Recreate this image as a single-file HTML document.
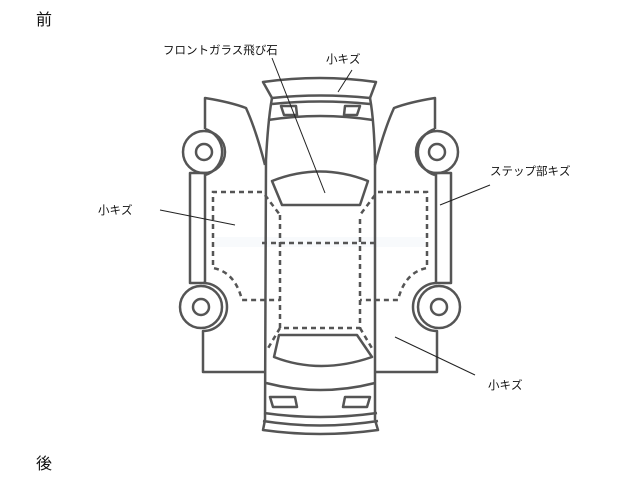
<!DOCTYPE html>
<html><head><meta charset="utf-8"><style>
html,body{margin:0;padding:0;background:#fff;}
svg{display:block}
text{font-family:"Liberation Sans","Noto Sans CJK JP",sans-serif;fill:#111}
</style></head><body>
<svg width="640" height="480" viewBox="0 0 640 480" xmlns="http://www.w3.org/2000/svg">
<text x="36" y="25" font-size="16">前</text>
<text x="36" y="469" font-size="16">後</text>
<text x="163" y="54" font-size="11.5">フロントガラス飛び石</text>
<text x="326" y="63" font-size="11.5">小キズ</text>
<text x="98" y="214" font-size="11.5">小キズ</text>
<text x="490" y="175" font-size="11.5">ステップ部キズ</text>
<text x="488" y="389" font-size="11.5">小キズ</text>
<rect x="215" y="237" width="210" height="10" fill="#f8fafc"/>
<g fill="none" stroke="#555" stroke-width="2.5" stroke-linejoin="round">
<path d="M263,82 Q320,74 376,82 L370,98 Q320,93 272,98 Z"/>
<path d="M272,98 Q268,120 266,160 L265,420"/>
<path d="M370,98 Q374,120 375,160 L375,420"/>
<path d="M272,104 Q320,99 370,104"/>
<path d="M268,120 Q320,112 373,120"/>
<path d="M281,106 L296,106 L297,115 L284,115 Z"/>
<path d="M345,106 L360,106 L357,115 L344,115 Z"/>
<path d="M272,181 Q320,162 368,181 L360,205 L282,205 Z"/>
<path d="M279,335 L357,335 L372,357 Q320,375 274,357 Z"/>
<path d="M266,383 Q320,397 375,383"/>
<path d="M270,397 L295,397 L297,407 L273,407 Z"/>
<path d="M345,397 L370,397 L367,407 L343,407 Z"/>
<path d="M264,413 Q320,421 377,413"/>
<path d="M263,421 Q320,430 378,421"/>
<path d="M265,420 L263,430 Q320,438 378,430 L375,420"/>
<path d="M205,129 L205,98 Q230,102 246,108 Q256,130 265,165"/>
<circle cx="204" cy="152" r="21"/>
<circle cx="204" cy="152" r="8"/>
<path d="M205,129 A24,24 0 0 1 205,175"/>
<rect x="190" y="173" width="15" height="110"/>
<circle cx="201" cy="307" r="21"/>
<circle cx="201" cy="307" r="8"/>
<path d="M203,283 A24,24 0 0 1 203,331 L203,372 L265,372"/>
<path d="M435,129 L435,98 Q410,102 394,108 Q384,130 375,165"/>
<circle cx="437" cy="152" r="21"/>
<circle cx="437" cy="152" r="8"/>
<path d="M435,129 A24,24 0 0 0 435,175"/>
<rect x="436" y="173" width="15" height="110"/>
<circle cx="439" cy="307" r="21"/>
<circle cx="439" cy="307" r="8"/>
<path d="M437,283 A24,24 0 0 0 437,331 L437,372 L375,372"/>
</g>
<g fill="none" stroke="#555" stroke-width="2.5" stroke-dasharray="5,4">
<path d="M280,215 L280,328 L360,328 L360,215"/>
<path d="M265,195 L280,215"/><path d="M375,195 L360,215"/>
<path d="M280,328 L267,350"/><path d="M360,328 L373,350"/>
<path d="M262,243 L375,243"/>
<path d="M262,192 L213,192 L213,268 Q235,272 242,300 L280,300"/>
<path d="M378,192 L427,192 L427,268 Q405,272 398,300 L360,300"/>
</g>
<g stroke="#222" stroke-width="1">
<line x1="272" y1="58" x2="325" y2="193"/>
<line x1="352" y1="70" x2="338" y2="92"/>
<line x1="160" y1="210" x2="235" y2="225"/>
<line x1="490" y1="185" x2="440" y2="205"/>
<line x1="395" y1="337" x2="475" y2="375"/>
</g>
</svg>
</body></html>
